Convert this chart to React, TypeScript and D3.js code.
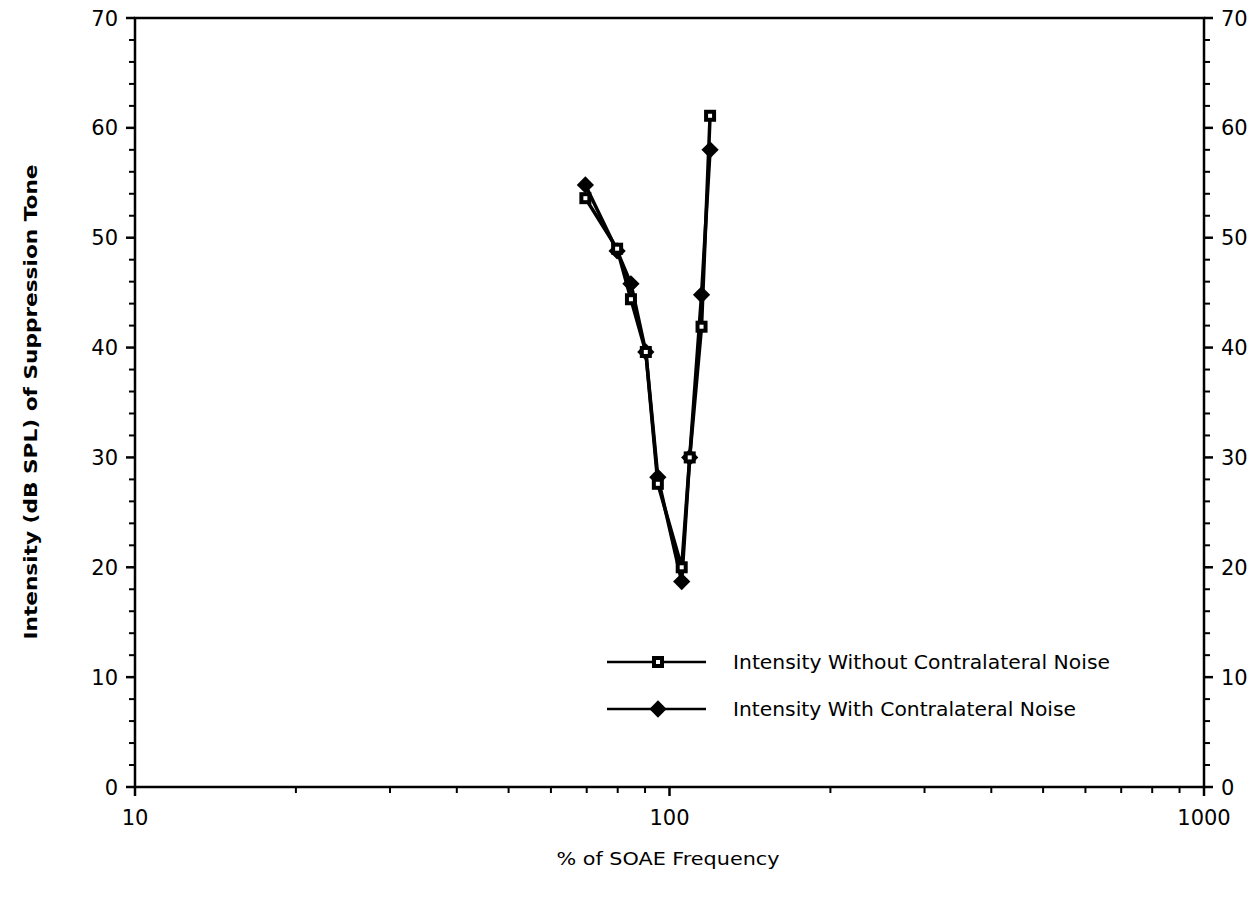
import * as d3 from 'd3';

// % of SOAE frequency (shared by both series)
const freqPct = [69.6, 79.8, 84.7, 90.3, 95.1, 105.4, 109.1, 114.8, 119.1];
const withoutNoise = [53.6, 49.0, 44.4, 39.6, 27.6, 20.0, 30.0, 41.9, 61.1];
const withNoise = [54.8, 48.8, 45.8, 39.6, 28.2, 18.7, 30.0, 44.8, 58.0];

const xMajor = [10, 100, 1000];
const yMajor = [0, 10, 20, 30, 40, 50, 60, 70];

const labelWithout = 'Intensity Without Contralateral Noise';
const labelWith = 'Intensity With Contralateral Noise';

const W = 1259;
const H = 898;
const left = 135;
const right = 1204;
const top = 18;
const bottom = 787;

export default function App() {
  const x = d3.scaleLog().domain([10, 1000]).range([left, right]);
  const y = d3.scaleLinear().domain([0, 70]).range([bottom, top]);

  const line = d3
    .line<number>()
    .x((_, i) => x(freqPct[i]))
    .y(d => y(d));

  const xMinor = d3.range(2, 10).flatMap(k => [k * 10, k * 100]);
  const yMinor = d3.range(0, 71, 2).filter(v => v % 10 !== 0);

  const font = 'Verdana, "DejaVu Sans", sans-serif';
  const sq = 12;
  const diamond = d3.symbol(d3.symbolDiamond2, 190)();

  const legY = [662, 709];
  const legX0 = 607;
  const legX1 = 706;
  const legMid = 658;

  return (
    <svg width={W} height={H} style={{ display: 'block', margin: '-8px' }}>
      <rect width={W} height={H} fill="#fff" />

      {/* frame */}
      <rect
        x={left}
        y={top}
        width={right - left}
        height={bottom - top}
        fill="none"
        stroke="#000"
        strokeWidth={2.5}
      />

      {/* y ticks, both sides */}
      {yMajor.map(v => (
        <g key={'ym' + v}>
          <line x1={left - 9} x2={left} y1={y(v)} y2={y(v)} stroke="#000" strokeWidth={2.5} />
          <line x1={right} x2={right + 9} y1={y(v)} y2={y(v)} stroke="#000" strokeWidth={2.5} />
          <text x={left - 17} y={y(v)} dy="0.36em" textAnchor="end" fontFamily={font} fontSize={21}>
            {v}
          </text>
          <text x={right + 17} y={y(v)} dy="0.36em" textAnchor="start" fontFamily={font} fontSize={21}>
            {v}
          </text>
        </g>
      ))}
      {yMinor.map(v => (
        <g key={'yn' + v}>
          <line x1={left - 6} x2={left} y1={y(v)} y2={y(v)} stroke="#000" strokeWidth={2} />
          <line x1={right} x2={right + 6} y1={y(v)} y2={y(v)} stroke="#000" strokeWidth={2} />
        </g>
      ))}

      {/* x ticks */}
      {xMajor.map(v => (
        <g key={'xm' + v}>
          <line x1={x(v)} x2={x(v)} y1={bottom} y2={bottom + 9} stroke="#000" strokeWidth={2.5} />
          <text x={x(v)} y={bottom + 38} textAnchor="middle" fontFamily={font} fontSize={21}>
            {v}
          </text>
        </g>
      ))}
      {xMinor.map(v => (
        <line key={'xn' + v} x1={x(v)} x2={x(v)} y1={bottom} y2={bottom + 6} stroke="#000" strokeWidth={2} />
      ))}

      {/* axis titles */}
      <text
        x={668}
        y={865}
        textAnchor="middle"
        fontFamily={font}
        fontSize={18}
        textLength={223}
        lengthAdjust="spacingAndGlyphs"
      >
        % of SOAE Frequency
      </text>
      <text
        transform={`translate(37,402) rotate(-90)`}
        textAnchor="middle"
        fontFamily={font}
        fontSize={18}
        fontWeight="bold"
        textLength={475}
        lengthAdjust="spacingAndGlyphs"
      >
        Intensity (dB SPL) of Suppression Tone
      </text>

      {/* series lines */}
      <path d={line(withNoise) || ''} fill="none" stroke="#000" strokeWidth={3.5} />
      <path d={line(withoutNoise) || ''} fill="none" stroke="#000" strokeWidth={3.5} />

      {withNoise.map((v, i) => (
        <path key={'d' + i} d={diamond || ''} transform={`translate(${x(freqPct[i])},${y(v)})`} fill="#000" />
      ))}
      {withoutNoise.map((v, i) => (
        <g key={'s' + i}>
          <rect x={x(freqPct[i]) - sq / 2} y={y(v) - sq / 2} width={sq} height={sq} fill="#000" />
          <rect x={x(freqPct[i]) - 2} y={y(v) - 2} width={4} height={4} fill="#fff" />
        </g>
      ))}

      {/* legend */}
      <line x1={legX0} x2={legX1} y1={legY[0]} y2={legY[0]} stroke="#000" strokeWidth={2.5} />
      <rect x={legMid - sq / 2} y={legY[0] - sq / 2} width={sq} height={sq} fill="#000" />
      <rect x={legMid - 2} y={legY[0] - 2} width={4} height={4} fill="#fff" />
      <text x={733} y={legY[0]} dy="0.36em" fontFamily={font} fontSize={19} textLength={377} lengthAdjust="spacingAndGlyphs">
        {labelWithout}
      </text>

      <line x1={legX0} x2={legX1} y1={legY[1]} y2={legY[1]} stroke="#000" strokeWidth={2.5} />
      <path d={diamond || ''} transform={`translate(${legMid},${legY[1]})`} fill="#000" />
      <text x={733} y={legY[1]} dy="0.36em" fontFamily={font} fontSize={19} textLength={343} lengthAdjust="spacingAndGlyphs">
        {labelWith}
      </text>
    </svg>
  );
}
